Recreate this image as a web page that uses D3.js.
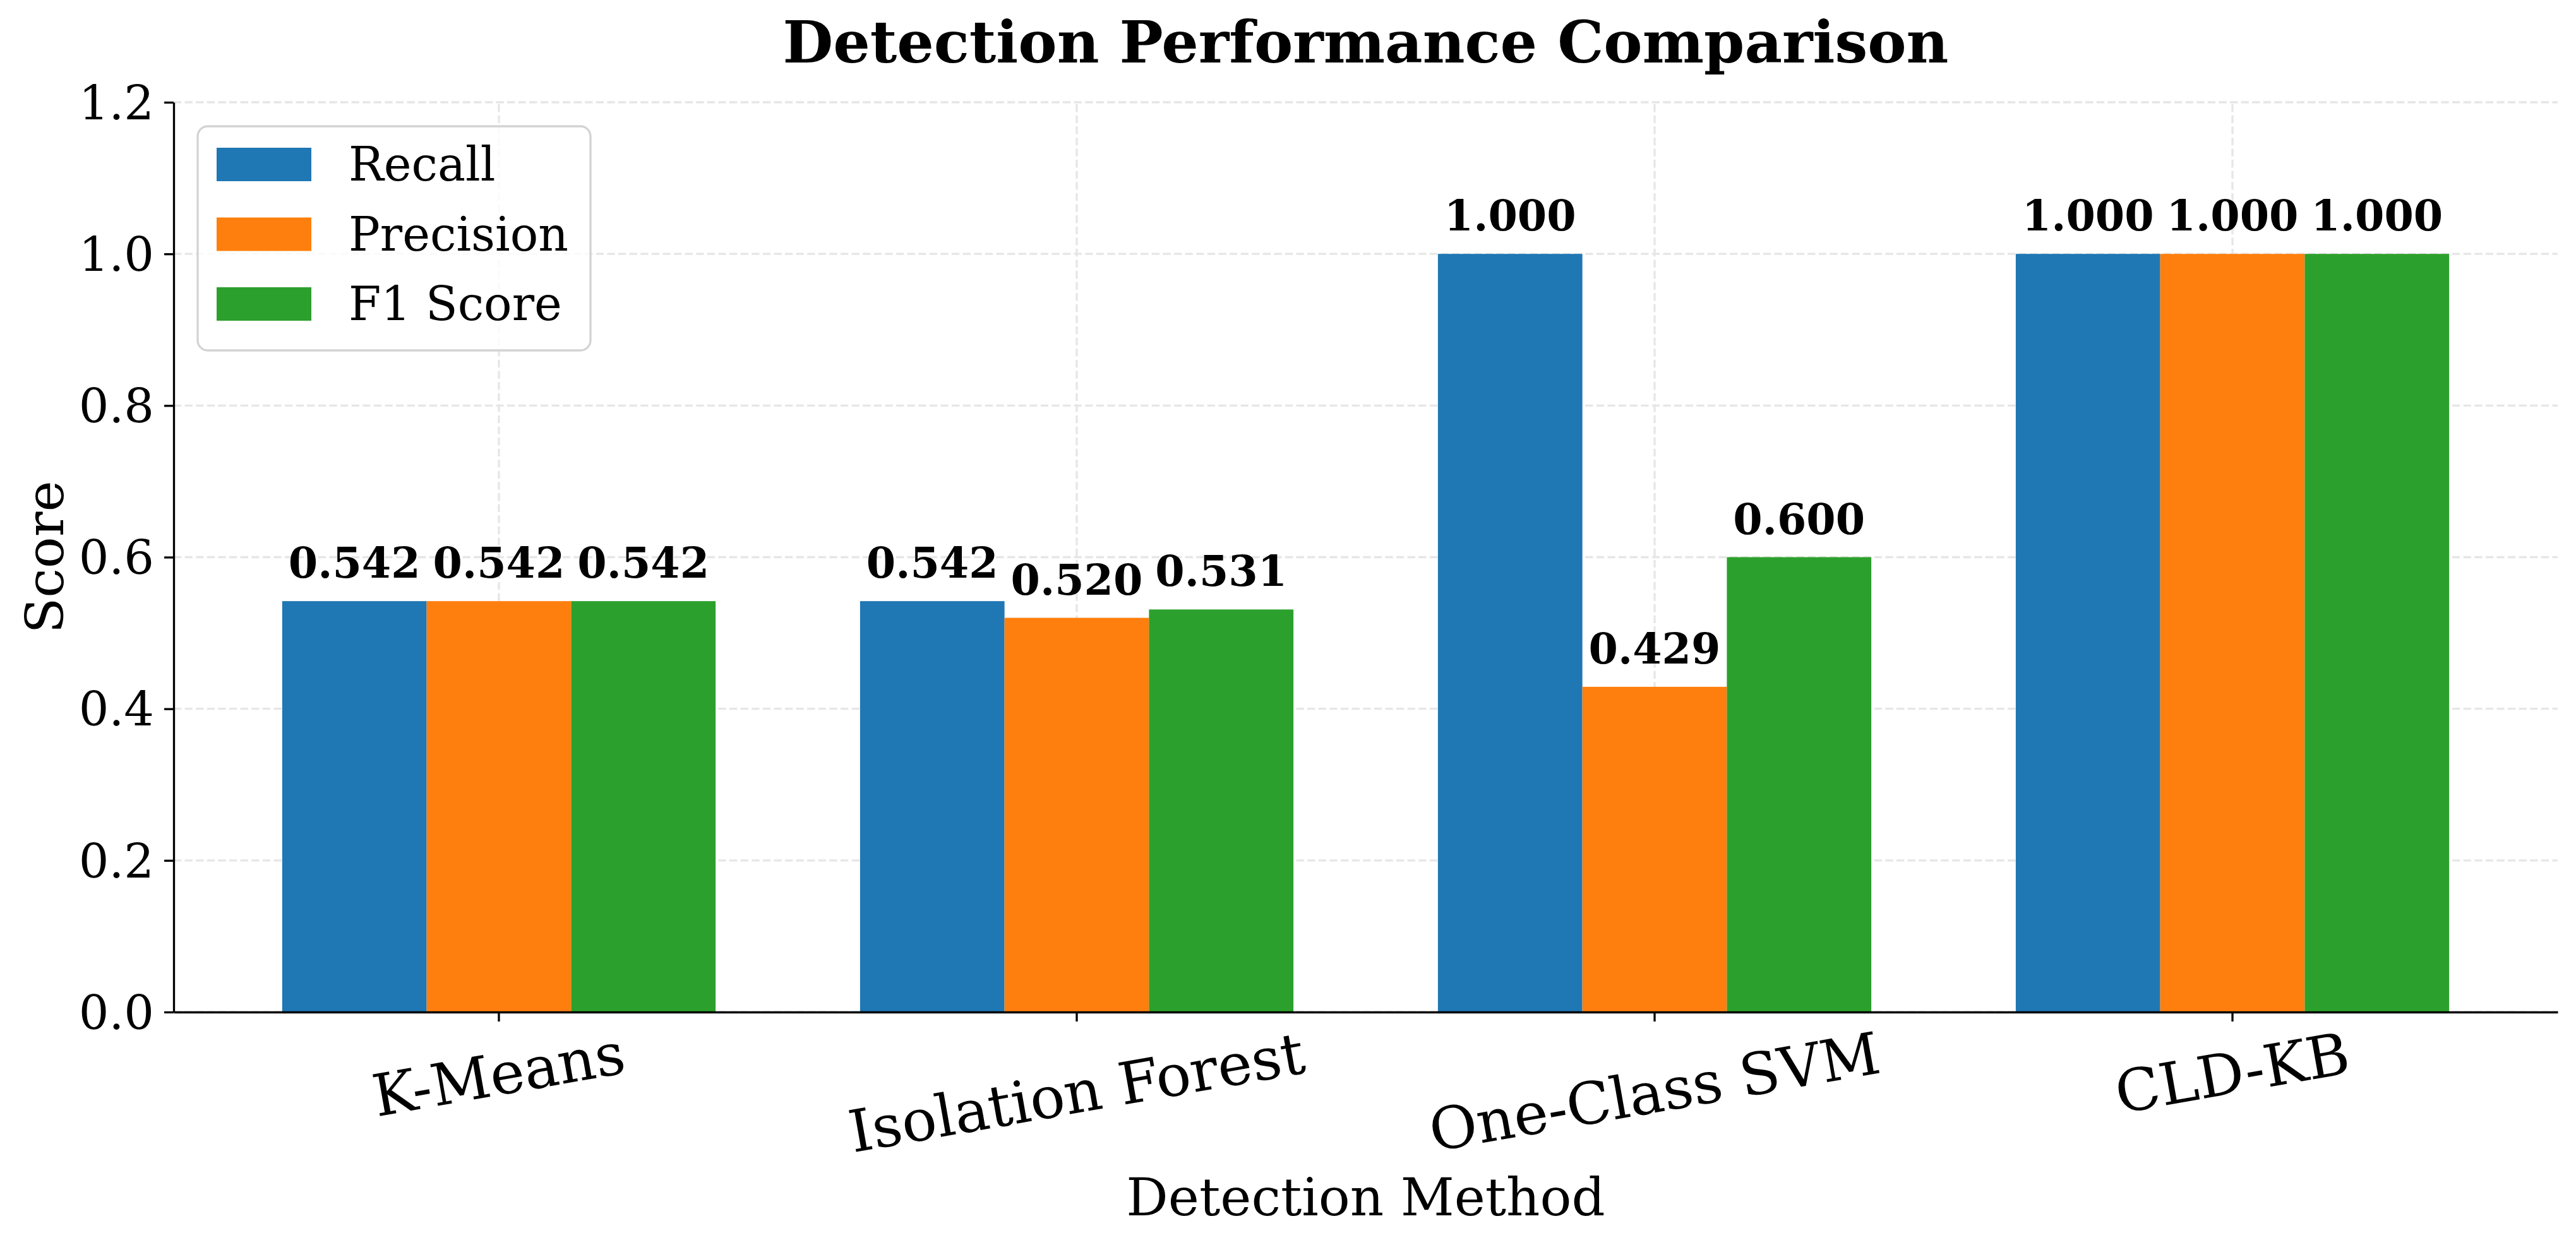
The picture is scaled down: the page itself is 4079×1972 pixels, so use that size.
<!DOCTYPE html>
<html>
<head>
<meta charset="utf-8">
<script src="https://cdn.jsdelivr.net/npm/d3@7"></script>
<style>
  html, body { margin: 0; padding: 0; background: #ffffff; }
  svg { display: block; }
  text { font-family: "DejaVu Serif", serif; }
</style>
</head>
<body>
<svg id="chart" width="4079" height="1972"></svg>
<script>
// ---------- data ----------
const categories = ["K-Means", "Isolation Forest", "One-Class SVM", "CLD-KB"];
const seriesNames = ["Recall", "Precision", "F1 Score"];
const recall    = [0.542, 0.542, 1.000, 1.000];
const precision = [0.542, 0.520, 0.429, 1.000];
const f1score   = [0.542, 0.531, 0.600, 1.000];
const yTicks = [0.0, 0.2, 0.4, 0.6, 0.8, 1.0, 1.2];
const colors = ["#1f77b4", "#ff7f0e", "#2ca02c"];

const seriesValues = [recall, precision, f1score];

// ---------- layout ----------
const W = 4079, H = 1972;
const plotLeft = 275, plotRight = 4050, plotTop = 162, plotBottom = 1603;

const svg = d3.select("#chart");
svg.append("rect").attr("width", W).attr("height", H).attr("fill", "#ffffff");

const x0 = d3.scaleBand().domain(categories).range([plotLeft, plotRight])
  .paddingInner(0.25).paddingOuter(0.1878);
const x1 = d3.scaleBand().domain(seriesNames).range([0, x0.bandwidth()]).padding(0);
const y = d3.scaleLinear().domain([0, 1.2]).range([plotBottom, plotTop]);

const gridColor = "#e6e6e6";
const dash = "12.3,5.3";

// grid (behind)
const grid = svg.append("g");
grid.selectAll("line.h").data(yTicks).join("line")
  .attr("x1", plotLeft).attr("x2", plotRight)
  .attr("y1", d => y(d)).attr("y2", d => y(d))
  .attr("stroke", gridColor).attr("stroke-width", 3.3).attr("stroke-dasharray", dash);
grid.selectAll("line.v").data(categories).join("line")
  .attr("x1", d => x0(d) + x0.bandwidth() / 2).attr("x2", d => x0(d) + x0.bandwidth() / 2)
  .attr("y1", plotBottom).attr("y2", plotTop)
  .attr("stroke", gridColor).attr("stroke-width", 3.3).attr("stroke-dasharray", dash);

// bars
const rows = [];
categories.forEach((c, i) => {
  seriesNames.forEach((s, j) => {
    rows.push({ cat: c, series: s, value: seriesValues[j][i], color: colors[j] });
  });
});

svg.append("g").selectAll("rect").data(rows).join("rect")
  .attr("x", d => x0(d.cat) + x1(d.series))
  .attr("width", x1.bandwidth())
  .attr("y", d => y(d.value))
  .attr("height", d => y(0) - y(d.value))
  .attr("fill", d => d.color);

// value labels
svg.append("g").selectAll("text").data(rows).join("text")
  .attr("x", d => x0(d.cat) + x1(d.series) + x1.bandwidth() / 2)
  .attr("y", d => y(d.value) - 37)
  .attr("text-anchor", "middle")
  .attr("font-size", 66.7)
  .attr("font-weight", "bold")
  .attr("fill", "#000")
  .text(d => d.value.toFixed(3));

// y axis
const yAxis = svg.append("g").attr("transform", `translate(${plotLeft},0)`)
  .call(d3.axisLeft(y).tickValues(yTicks).tickFormat(d3.format(".1f"))
    .tickSize(15).tickSizeOuter(0).tickPadding(16));
yAxis.select(".domain").attr("stroke", "#000").attr("stroke-width", 3.3);
yAxis.selectAll(".tick line").attr("stroke", "#000").attr("stroke-width", 3.3);
yAxis.selectAll(".tick text").attr("font-size", 75).attr("font-family", "DejaVu Serif")
  .attr("fill", "#000").attr("dy", "0.35em");

// x axis
const xAxis = svg.append("g").attr("transform", `translate(0,${plotBottom})`)
  .call(d3.axisBottom(x0).tickSize(15).tickSizeOuter(0));
xAxis.select(".domain").attr("stroke", "#000").attr("stroke-width", 3.3);
xAxis.selectAll(".tick line").attr("stroke", "#000").attr("stroke-width", 3.3);
const angle = 10;
const rad = angle * Math.PI / 180;
const labelTop = 1616 - plotBottom;
xAxis.selectAll(".tick text")
  .attr("font-size", 92).attr("font-family", "DejaVu Serif").attr("fill", "#000")
  .attr("text-anchor", "middle").attr("dy", "0.33em").attr("y", 0)
  .each(function() {
    const len = this.getComputedTextLength();
    const hgt = 92 * 1.164;
    const Hb = len * Math.sin(rad) + hgt * Math.cos(rad);
    const cy = labelTop + Hb / 2;
    d3.select(this).attr("transform", `translate(0,${cy}) rotate(${-angle})`);
  });

// axis labels
svg.append("text")
  .attr("x", (plotLeft + plotRight) / 2).attr("y", 1925)
  .attr("text-anchor", "middle").attr("font-size", 83).attr("fill", "#000")
  .text("Detection Method");
svg.append("text")
  .attr("transform", `translate(100,${(plotTop + plotBottom) / 2}) rotate(-90)`)
  .attr("text-anchor", "middle").attr("font-size", 83).attr("fill", "#000")
  .text("Score");

// title
svg.append("text")
  .attr("x", (plotLeft + plotRight) / 2).attr("y", 99)
  .attr("text-anchor", "middle").attr("font-size", 92).attr("font-weight", "bold").attr("fill", "#000")
  .text("Detection Performance Comparison");

// legend
const lg = svg.append("g");
lg.append("rect").attr("x", 313).attr("y", 200).attr("width", 622).attr("height", 355)
  .attr("rx", 16).attr("ry", 16)
  .attr("fill", "#ffffff").attr("fill-opacity", 0.8)
  .attr("stroke", "#d3d3d3").attr("stroke-width", 3.3);
const legendRows = seriesNames.map((s, i) => ({ name: s, color: colors[i], idx: i }));
const rowY = d3.scaleLinear().domain([0, 2]).range([260.5, 481.5]);
lg.selectAll("rect.sw").data(legendRows).join("rect")
  .attr("class", "sw")
  .attr("x", 343).attr("width", 150)
  .attr("y", d => rowY(d.idx) - 26.5).attr("height", 53)
  .attr("fill", d => d.color);
lg.selectAll("text").data(legendRows).join("text")
  .attr("x", 552).attr("y", d => rowY(d.idx))
  .attr("dy", "0.35em")
  .attr("font-size", 74).attr("fill", "#000")
  .text(d => d.name);
</script>
</body>
</html>
